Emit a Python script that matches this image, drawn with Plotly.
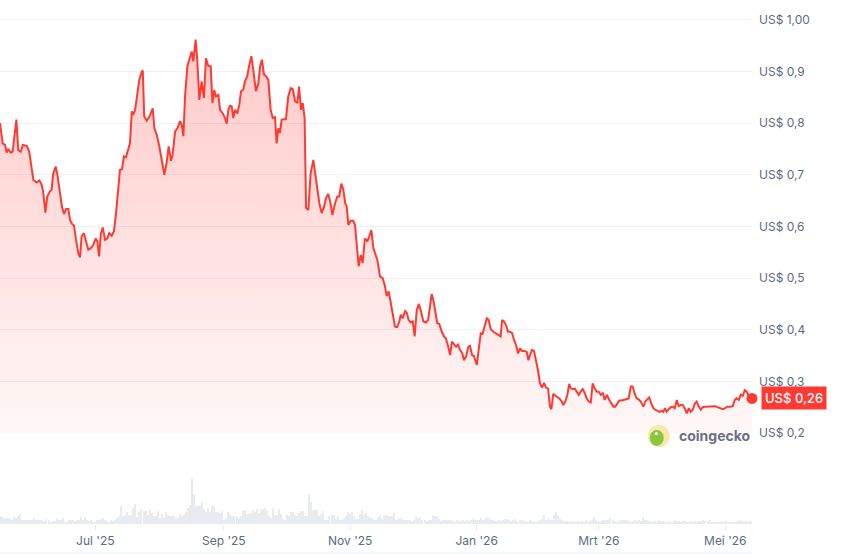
#!/usr/bin/env python3
"""One-year price chart (coingecko style): price line with gradient fill,
daily volume strip underneath, price axis on the right with Dutch labels."""

import pandas as pd
import plotly.graph_objects as go

BASE = pd.Timestamp("2025-05-16")

# price samples: offset in days from BASE, price in USD
PRICE_DAY = [
    0.0, 1.3, 2.4, 3.2, 4.0, 5.2, 6.1, 7.1, 7.9, 8.8, 10.0, 11.0, 12.9, 14.1, 15.3,
    16.1, 17.7, 19.0, 20.1, 20.9, 21.9, 22.8, 24.1, 24.9, 25.7, 26.9, 27.7, 29.0,
    29.9, 30.9, 31.9, 33.0, 33.8, 34.6, 35.7, 36.7, 37.8, 38.6, 39.4, 40.5, 41.5,
    42.6, 43.8, 45.0, 46.2, 47.0, 47.8, 48.7, 49.6, 50.7, 51.8, 52.7, 53.9, 55.0,
    56.0, 57.1, 57.9, 58.9, 59.8, 60.8, 61.9, 62.7, 63.6, 64.3, 65.2, 66.3, 67.2,
    68.4, 68.9, 69.6, 70.8, 72.1, 72.7, 73.7, 74.5, 75.6, 76.9, 78.0, 79.3, 80.4,
    81.4, 82.5, 83.3, 84.5, 85.6,
    86.9, 87.7, 88.5, 89.3, 90.4, 91.4, 92.5, 93.3, 94.4, 95.2, 96.2, 97.3, 98.4,
    99.4, 100.5, 101.7, 102.5, 103.4, 104.2, 105.4, 106.2, 107.5, 108.6, 109.4,
    110.2, 111.0, 111.8, 112.6, 113.4, 114.5, 115.5, 116.3, 117.4, 118.2, 119.3,
    120.3, 121.3, 122.2, 123.5, 124.7, 125.5, 126.4, 127.4, 128.4, 129.5, 130.6,
    131.6, 132.7, 133.5, 134.3, 135.1, 135.9, 137.1, 138.0, 139.1, 140.3, 141.3,
    142.4, 143.5, 144.3, 145.3, 146.1, 147.0, 147.7, 148.8, 149.9, 151.2, 152.8,
    154.1, 155.2, 156.4, 157.3, 158.4, 159.3, 160.4, 161.7, 162.8, 163.7, 164.7,
    165.7, 166.6, 167.3, 168.1, 169.2, 170.5, 171.3, 172.1, 173.1, 174.1, 175.0,
    176.1, 177.3, 178.2, 179.2, 180.2, 181.0, 182.1, 183.4,
    184.7, 185.8, 186.6, 187.6, 188.6, 189.5, 190.6, 191.7, 192.7, 193.4, 194.3,
    195.5, 196.3, 197.2, 198.2, 199.2, 200.1, 201.1, 202.1, 203.0, 204.3, 205.6,
    206.6, 207.5, 208.3, 209.1, 210.1, 211.0, 212.0, 213.2, 214.3, 215.2, 216.3,
    217.2, 218.1, 219.1, 220.1, 221.0, 222.0, 223.1, 223.9, 224.9, 226.0, 226.8,
    227.8, 228.7, 230.1, 231.0, 232.0, 232.9, 233.9, 234.9, 235.8, 236.8, 238.1,
    239.4, 240.5, 241.6, 242.3, 243.2, 244.2, 245.2, 246.1, 247.1, 248.1, 249.0,
    250.0, 251.0, 251.9, 253.2, 254.2, 255.0, 255.8, 256.7, 257.7, 258.7, 259.6,
    260.6, 261.6, 262.5, 263.5, 264.5, 265.4, 266.1, 267.0, 268.0, 269.0, 269.9,
    271.1, 271.8, 272.8, 273.8, 274.7, 275.4, 276.4, 277.4, 278.3, 279.3, 280.2,
    281.2, 282.2, 283.1, 284.1, 285.1, 286.0, 287.0, 288.0, 288.9, 289.9, 290.9,
    291.8, 292.8, 294.0, 295.0, 296.0, 296.9, 297.9, 298.9, 300.0, 301.1, 302.4,
    303.4, 304.4, 305.3, 306.3, 307.3, 308.2, 309.2, 310.5, 311.4, 312.4, 313.3,
    314.3, 315.3, 316.2, 317.2, 318.2, 319.1, 320.1, 320.9, 321.7, 322.7, 323.7,
    324.6, 325.6, 326.6, 327.5, 328.5, 329.5, 330.4, 331.4, 332.4, 333.3, 334.3,
    335.3, 336.2, 337.2, 338.2, 339.1, 340.2, 341.8, 343.5, 345.1, 346.2, 347.5,
    348.8, 349.9, 351.0, 352.3, 353.6, 354.6, 355.5, 356.5, 357.5, 358.4, 359.4,
    360.3, 361.3, 362.3, 362.9,
]
PRICE_USD = [
    0.800, 0.761, 0.758, 0.743, 0.750, 0.743, 0.745, 0.774, 0.807, 0.748, 0.745,
    0.758, 0.756, 0.745, 0.717, 0.690, 0.685, 0.689, 0.681, 0.665, 0.627, 0.658,
    0.668, 0.671, 0.703, 0.716, 0.700, 0.665, 0.638, 0.624, 0.634, 0.634, 0.613,
    0.606, 0.602, 0.574, 0.548, 0.540, 0.581, 0.587, 0.571, 0.555, 0.558, 0.564,
    0.577, 0.571, 0.542, 0.587, 0.598, 0.574, 0.577, 0.587, 0.582, 0.591, 0.626,
    0.678, 0.710, 0.711, 0.736, 0.734, 0.748, 0.761, 0.823, 0.816, 0.826, 0.858,
    0.884, 0.900, 0.902, 0.813, 0.805, 0.813, 0.819, 0.829, 0.790, 0.778, 0.755,
    0.729, 0.700, 0.723, 0.755, 0.727, 0.739, 0.784, 0.790,
    0.804, 0.797, 0.775, 0.852, 0.910, 0.923, 0.939, 0.920, 0.962, 0.923, 0.845,
    0.881, 0.849, 0.926, 0.911, 0.910, 0.839, 0.864, 0.852, 0.855, 0.826, 0.819,
    0.810, 0.799, 0.826, 0.834, 0.833, 0.810, 0.826, 0.819, 0.836, 0.862, 0.865,
    0.881, 0.891, 0.913, 0.930, 0.904, 0.862, 0.878, 0.910, 0.923, 0.894, 0.891,
    0.884, 0.826, 0.810, 0.812, 0.761, 0.790, 0.781, 0.807, 0.807, 0.808, 0.852,
    0.868, 0.866, 0.843, 0.839, 0.871, 0.826, 0.839, 0.810, 0.636, 0.632, 0.703,
    0.729, 0.684, 0.645, 0.626, 0.639, 0.655, 0.663, 0.649, 0.622, 0.645, 0.658,
    0.658, 0.683, 0.671, 0.645, 0.639, 0.603, 0.611, 0.611, 0.603, 0.568, 0.523,
    0.545, 0.529, 0.577, 0.571, 0.581, 0.593, 0.558, 0.548, 0.535, 0.503,
    0.500, 0.484, 0.465, 0.474, 0.451, 0.425, 0.406, 0.405, 0.416, 0.429, 0.422,
    0.436, 0.433, 0.419, 0.414, 0.416, 0.387, 0.438, 0.450, 0.438, 0.416, 0.414,
    0.419, 0.445, 0.469, 0.458, 0.429, 0.413, 0.411, 0.396, 0.387, 0.383, 0.367,
    0.351, 0.377, 0.372, 0.367, 0.371, 0.361, 0.354, 0.341, 0.348, 0.367, 0.369,
    0.351, 0.349, 0.332, 0.361, 0.393, 0.392, 0.406, 0.422, 0.419, 0.401, 0.396,
    0.392, 0.390, 0.387, 0.419, 0.416, 0.409, 0.396, 0.396, 0.394, 0.380, 0.371,
    0.354, 0.364, 0.359, 0.359, 0.357, 0.341, 0.351, 0.361, 0.359, 0.341, 0.322,
    0.296, 0.288, 0.297, 0.288, 0.286, 0.251, 0.246, 0.276, 0.272, 0.270, 0.267,
    0.261, 0.254, 0.261, 0.274, 0.295, 0.287, 0.285, 0.286, 0.280, 0.274, 0.280,
    0.285, 0.277, 0.267, 0.261, 0.259, 0.296, 0.286, 0.280, 0.280, 0.274, 0.277,
    0.264, 0.274, 0.264, 0.257, 0.251, 0.251, 0.257, 0.263, 0.263, 0.264, 0.265,
    0.267, 0.290, 0.290, 0.276, 0.267, 0.265, 0.261, 0.251, 0.261, 0.265, 0.269,
    0.257, 0.248, 0.245, 0.243, 0.241, 0.243, 0.241, 0.248, 0.241, 0.246, 0.250,
    0.251, 0.248, 0.264, 0.252, 0.254, 0.254, 0.248, 0.238, 0.248, 0.241, 0.245,
    0.257, 0.261, 0.251, 0.245, 0.250, 0.251, 0.251, 0.251, 0.252, 0.250, 0.248,
    0.246, 0.248, 0.251, 0.251, 0.252, 0.264, 0.267, 0.264, 0.274, 0.272, 0.283,
    0.280, 0.272, 0.270, 0.267,
]

# daily volume (relative units, one bar per day over the same span)
VOLUME = [
    25, 20, 17, 19, 19, 15, 13, 21, 17, 23, 31, 13, 13, 11, 13, 11, 13, 18, 13, 11,
    11, 11, 8, 15, 11, 7, 9, 8, 15, 13, 11, 18, 6, 5, 13, 13, 11, 8, 13, 13,
    21, 13, 18, 13, 10, 11, 7, 5, 11, 13, 15, 18, 13, 10, 6, 11, 8, 11, 18, 23,
    55, 25, 28, 35, 28, 28, 48, 61, 20, 35, 45, 39, 39, 28, 43, 33, 25, 25, 38, 17,
    31, 18, 37, 28, 23, 25, 23, 18, 18, 31, 25, 27, 35, 48, 58, 138, 91, 55, 55, 58,
    67, 45, 35, 49, 35, 53, 55, 37, 35, 33, 39, 13, 18, 37, 31, 25, 23, 23, 18, 23,
    38, 43, 31, 29, 33, 41, 35, 45, 33, 45, 45, 47, 38, 23, 18, 48, 28, 28, 45, 31,
    15, 13, 27, 23, 37, 37, 28, 25, 33, 38, 39, 23, 23, 91, 65, 41, 43, 43, 23, 31,
    39, 13, 13, 25, 27, 27, 15, 23, 13, 13, 18, 23, 35, 31, 35, 23, 15, 15, 31, 43,
    28, 33, 23, 21, 18, 13, 11, 21,
    28, 15, 25, 28, 25, 23, 23, 33, 13, 15, 18, 18, 11, 13, 13, 11, 8, 11, 25, 18,
    21, 13, 13, 8, 11, 13, 28, 23, 25, 15, 8, 11, 13, 11, 13, 11, 8, 5, 11, 8,
    8, 11, 8, 11, 8, 11, 15, 13, 11, 11, 18, 11, 15, 18, 18, 13, 11, 8, 8, 13,
    8, 13, 15, 15, 13, 8, 11, 15, 8, 13, 13, 8, 5, 5, 11, 8, 5, 5, 8, 13,
    15, 28, 13, 15, 13, 13, 28, 37, 23, 15, 11, 8, 8, 8, 5, 8, 8, 5, 8, 5,
    8, 5, 11, 5, 8, 11, 21, 13, 8, 8, 13, 11, 13, 13, 18, 11, 8, 5, 8, 11,
    13, 11, 11, 8, 5, 8, 11, 8, 11, 8, 21, 11, 11, 8, 5, 8, 8, 5, 11, 8,
    8, 5, 5, 8, 5, 5, 11, 8, 8, 5, 8, 8, 5, 5, 8, 5, 8, 5, 8, 8,
    11, 8, 8, 11, 5, 5, 5, 5, 5, 8, 5, 8, 5, 5, 3, 5, 5, 8, 11, 8,
    8, 8, 5, 8, 8,
]

PRICE_TICKS = [0.2, 0.3, 0.4, 0.5, 0.6, 0.7, 0.8, 0.9, 1.0]
PRICE_TICK_TEXT = ["US$ 0,2", "US$ 0,3", "US$ 0,4", "US$ 0,5", "US$ 0,6",
                   "US$ 0,7", "US$ 0,8", "US$ 0,9", "US$ 1,00"]
DATE_TICKS = ["2025-07-01", "2025-09-01", "2025-11-01",
              "2026-01-01", "2026-03-01", "2026-05-01"]
DATE_TICK_TEXT = ["Jul '25", "Sep '25", "Nov '25", "Jan '26", "Mrt '26", "Mei '26"]
LAST_LABEL = "US$ 0,26"

RED = "#ff3a33"
GREY_TXT = "#5b6b84"
GRID = "#eef1f5"
VOL_BAR = "#e8ecf1"

if len(PRICE_DAY) != len(PRICE_USD):
    raise SystemExit(f"price arrays differ: {len(PRICE_DAY)} vs {len(PRICE_USD)}")

price_t = BASE + pd.to_timedelta(PRICE_DAY, unit="D")
end_t = price_t[-1]
vol_t = pd.date_range(BASE, end_t, periods=len(VOLUME))

fig = go.Figure()
fig.add_trace(go.Bar(
    x=vol_t, y=VOLUME, xaxis="x", yaxis="y2",
    marker=dict(color=VOL_BAR, line=dict(width=0)),
    width=0.5 * 86400000, hoverinfo="skip"))
fig.add_trace(go.Scatter(
    x=price_t, y=PRICE_USD, mode="lines", yaxis="y",
    line=dict(color=RED, width=2),
    fill="tozeroy",
    fillgradient=dict(type="vertical", start=0.2, stop=0.97,
                      colorscale=[[0, "rgba(255,58,51,0.04)"],
                                  [1, "rgba(255,58,51,0.27)"]])))
fig.add_trace(go.Scatter(
    x=[price_t[-1]], y=[PRICE_USD[-1]], mode="markers", yaxis="y",
    marker=dict(color=RED, size=11), cliponaxis=False))

# logo: gecko badge + wordmark
LOGO_X, LOGO_Y = 0.876, 0.168
shapes = [
    dict(type="circle", xref="paper", yref="paper", xsizemode="pixel",
         ysizemode="pixel", xanchor=LOGO_X, yanchor=LOGO_Y,
         x0=-11, x1=11, y0=-11, y1=11, fillcolor="#f7eaa8", line_width=0,
         layer="above"),
    dict(type="circle", xref="paper", yref="paper", xsizemode="pixel",
         ysizemode="pixel", xanchor=LOGO_X, yanchor=LOGO_Y,
         x0=-9, x1=5, y0=-10, y1=6, fillcolor="#8cc63f", line_width=0,
         layer="above"),
    dict(type="circle", xref="paper", yref="paper", xsizemode="pixel",
         ysizemode="pixel", xanchor=LOGO_X, yanchor=LOGO_Y,
         x0=-4, x1=-1, y0=1, y1=4, fillcolor="white", line_width=0,
         layer="above"),
    dict(type="line", xref="paper", yref="paper", x0=0, x1=1,
         y0=-0.055, y1=-0.055, line=dict(color=GRID, width=1)),
]

fig.update_layout(
    width=844, height=554,
    margin=dict(l=0, r=92, t=0, b=30),
    paper_bgcolor="white", plot_bgcolor="white",
    font=dict(family="Inter, Roboto, sans-serif", size=12, color=GREY_TXT),
    showlegend=False, bargap=0,
    xaxis=dict(type="date", anchor="y2",
               range=[BASE, end_t],
               tickvals=DATE_TICKS, ticktext=DATE_TICK_TEXT,
               ticks="outside", ticklen=6, tickcolor=VOL_BAR,
               showgrid=False, showline=False, zeroline=False,
               tickfont=dict(size=12, color=GREY_TXT)),
    yaxis=dict(domain=[0.1737, 1.0], range=[0.2, 1.0387], side="right",
               anchor="x", tickvals=PRICE_TICKS, ticktext=PRICE_TICK_TEXT,
               showgrid=True, gridcolor=GRID, gridwidth=1, zeroline=False,
               ticks="", ticklabelstandoff=6,
               tickfont=dict(size=12, color=GREY_TXT)),
    yaxis2=dict(domain=[0, 0.16], range=[0, 252], visible=False),
    shapes=shapes,
    annotations=[
        dict(x=1, xref="paper", y=PRICE_USD[-1], yref="y", xanchor="left",
             yanchor="middle", xshift=9, text=LAST_LABEL, showarrow=False,
             bgcolor=RED, borderpad=3,
             font=dict(color="white", size=13, weight=500)),
        dict(x=0.9003, xref="paper", y=LOGO_Y, yref="paper", xanchor="left",
             yanchor="middle", text="<b>coingecko</b>", showarrow=False,
             font=dict(size=14, color="#6b7083")),
    ],
)

# the page body has a default 8px margin; drop it so the figure sits at 0,0
fig.write_html("out.html", config={"displayModeBar": False},
               post_script="document.body.style.margin='0';")
